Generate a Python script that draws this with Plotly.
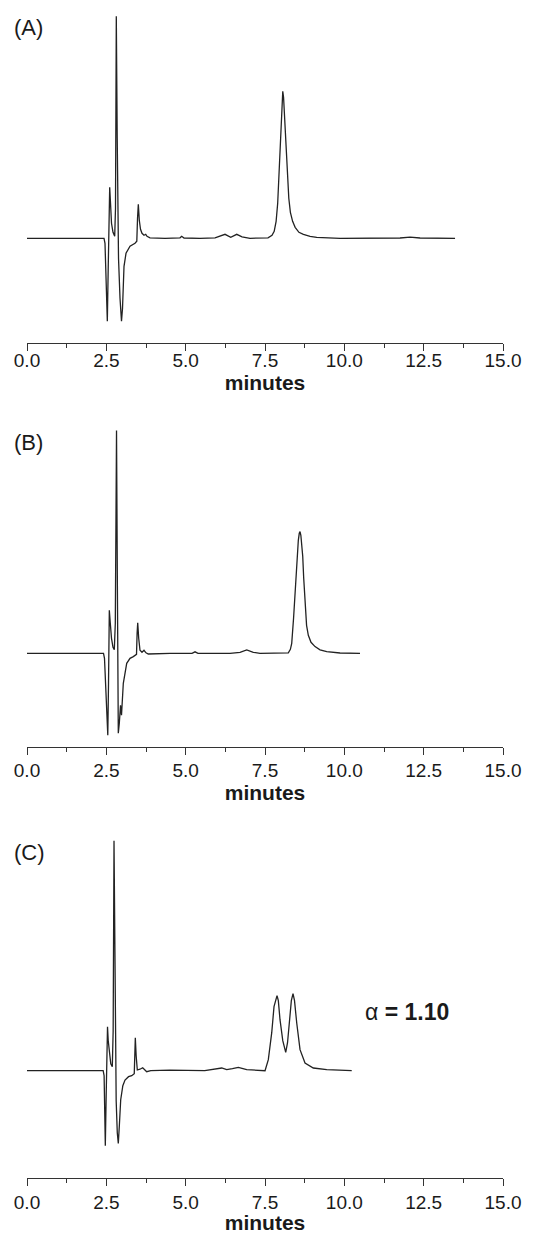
import plotly.graph_objects as go

# ---- data (minutes, detector signal in arbitrary units; baseline = 0) ----
time_a = [0.00, 2.427, 2.458, 2.505, 2.531, 2.559, 2.584, 2.606, 2.632, 2.663, 2.710, 2.764,
          2.789, 2.814, 2.843, 2.884, 2.931, 2.978, 3.010, 3.057, 3.120, 3.246, 3.404, 3.460,
          3.483, 3.508, 3.539, 3.577, 3.624, 3.687, 3.741, 3.782, 3.876, 4.349, 4.822, 4.875,
          4.948, 5.452, 5.925, 6.240, 6.420, 6.609, 6.776, 7.028, 7.595, 7.721, 7.790, 7.850,
          7.900, 7.950, 8.000, 8.035, 8.060, 8.085, 8.120, 8.160, 8.200, 8.250, 8.300, 8.370,
          8.450, 8.570, 8.710, 8.920, 9.130, 9.865, 11.755, 12.071, 12.386, 13.489]
signal_a = [0, 0, -5, -60, -83, -30, 20, 51, 35, 15, 6, 2,
            30, 222, 100, -20, -60, -83, -70, -28, -15, -8, -5, -3,
            20, 34, 18, 9, 5, 3, 4, 2, 0.5, 0, 0.5, 2,
            0.3, 0, 0.5, 4, 1, 4, 1.5, 0, 0.5, 3, 7, 17,
            35, 70, 115, 140, 147, 141, 118, 88, 61, 40, 26, 17,
            11, 6, 4, 2, 1, 0, 0.3, 1.2, 0.3, 0]

time_b = [0.00, 2.411, 2.442, 2.505, 2.546, 2.569, 2.594, 2.625, 2.663, 2.710, 2.751, 2.783,
          2.821, 2.846, 2.877, 2.909, 2.947, 2.978, 3.035, 3.142, 3.246, 3.350, 3.451, 3.470,
          3.489, 3.520, 3.561, 3.624, 3.687, 3.750, 3.823, 4.507, 5.200, 5.295, 5.389, 6.398,
          6.713, 6.924, 7.132, 7.343, 8.235, 8.300, 8.342, 8.400, 8.446, 8.500, 8.550, 8.580,
          8.604, 8.630, 8.689, 8.720, 8.761, 8.810, 8.865, 8.950, 9.077, 9.234, 9.445, 9.864,
          10.495]
signal_b = [0, 0, -5, -60, -82, -30, 43, 30, 15, 6, 3.5, 30,
            222.7, 80, -80, -70, -52, -62, -30, -10, -5, -3.3, -1, 20,
            30.6, 15, 3, 1, 3, 0.5, -0.7, 0, 0, 1.5, 0, 0,
            1, 3.3, 1, 0, 0.5, 4, 10, 35, 63, 93, 113, 120,
            121.7, 118, 97, 75, 47, 28, 18, 11, 6.7, 3.5, 1.6, 0.3,
            0]

time_c = [0.00, 2.400, 2.430, 2.455, 2.468, 2.495, 2.520, 2.537, 2.560, 2.600, 2.640, 2.688,
          2.715, 2.742, 2.770, 2.810, 2.845, 2.877, 2.910, 2.953, 3.020, 3.089, 3.200, 3.300,
          3.380, 3.395, 3.413, 3.440, 3.476, 3.560, 3.646, 3.772, 3.900, 4.500, 5.600, 6.136,
          6.293, 6.475, 6.659, 6.924, 7.300, 7.501, 7.605, 7.712, 7.784, 7.840, 7.879, 7.920,
          7.973, 8.060, 8.153, 8.210, 8.266, 8.330, 8.383, 8.430, 8.500, 8.604, 8.761, 9.023,
          9.445, 10.233]
signal_c = [0, 0, -5, -55, -75, -25, 30, 44, 30, 14, 7, 4,
            40, 230, 80, -30, -62, -72.7, -55, -29, -15, -9.3, -6, -5,
            -3, 15, 33, 15, 0.7, 1.5, 3, -1, 0, 0.5, 0, 2.7,
            1, 2, 3.3, 1, 0, 0, 11, 38, 64, 72, 75, 70,
            51, 30, 18.3, 28, 47.7, 70, 77, 70, 47.7, 21, 7.7, 2.7,
            1, 0]

tick_values = [0, 2.5, 5, 7.5, 10, 12.5, 15]
tick_labels = ["0.0", "2.5", "5.0", "7.5", "10.0", "12.5", "15.0"]
minor_tick_values = [1.25, 3.75, 6.25, 8.75, 11.25, 13.75]
panel_labels = ["(A)", "(B)", "(C)"]
alpha_text = "α <b>= 1.10</b>"

W, H = 539, 1234
FONT = "Liberation Sans, Arial, sans-serif"
INK = "#1a1a1a"

# panel layout in pixels: (plot top, axis line y, baseline y)
panels = [(5, 342.5, 238.3), (420, 746.7, 653.3), (835, 1178.3, 1070.7)]
label_y = [27, 443, 853]
label_standoff = [-6, -1, 0]

fig = go.Figure()
series = [(time_a, signal_a), (time_b, signal_b), (time_c, signal_c)]
for i, (t, s) in enumerate(series):
    fig.add_trace(go.Scatter(x=t, y=s, mode="lines",
                             line=dict(color="#222222", width=1.3),
                             xaxis=f"x{i+1}" if i else "x",
                             yaxis=f"y{i+1}" if i else "y",
                             showlegend=False, hoverinfo="skip"))

layout = dict(width=W, height=H, margin=dict(l=0, r=0, t=0, b=0),
              paper_bgcolor="white", plot_bgcolor="white", showlegend=False,
              font=dict(family=FONT, color=INK))
annotations = []
for i, (top, axis_y, base_y) in enumerate(panels):
    sfx = str(i + 1) if i else ""
    ymin = -(axis_y - base_y)
    ymax = base_y - top
    layout["xaxis" + sfx] = dict(
        domain=[27 / W, 503 / W], range=[0, 15], anchor="y" + sfx,
        showline=True, linecolor="#333333", linewidth=1.3,
        ticks="outside", ticklen=7, tickwidth=1.2, tickcolor="#333333",
        tickvals=tick_values, ticktext=tick_labels,
        tickfont=dict(size=19, color=INK, family=FONT),
        ticklabelstandoff=label_standoff[i],
        minor=dict(tickvals=minor_tick_values, ticks="outside",
                   ticklen=4, tickwidth=1.2, tickcolor="#333333", showgrid=False),
        showgrid=False, zeroline=False, fixedrange=True, automargin=False,
        title=dict(text="<b>minutes</b>", font=dict(size=21, color=INK, family=FONT),
                   standoff=0))
    layout["yaxis" + sfx] = dict(
        domain=[1 - axis_y / H, 1 - top / H], range=[ymin, ymax], anchor="x" + sfx,
        visible=False, showgrid=False, zeroline=False, fixedrange=True)
    annotations.append(dict(text=panel_labels[i], xref="paper", yref="paper",
                            x=12 / W, y=1 - label_y[i] / H, xanchor="left", yanchor="middle",
                            showarrow=False, font=dict(size=22, color=INK, family=FONT)))

annotations.append(dict(text=alpha_text, xref="paper", yref="paper",
                        x=407 / W, y=1 - 1012 / H, xanchor="center", yanchor="middle",
                        showarrow=False, font=dict(size=23, color=INK, family=FONT)))
layout["annotations"] = annotations
fig.update_layout(**layout)
fig.write_html("out.html", config={"displayModeBar": False},
               post_script="document.body.style.margin='0';document.body.style.overflow='hidden';")
